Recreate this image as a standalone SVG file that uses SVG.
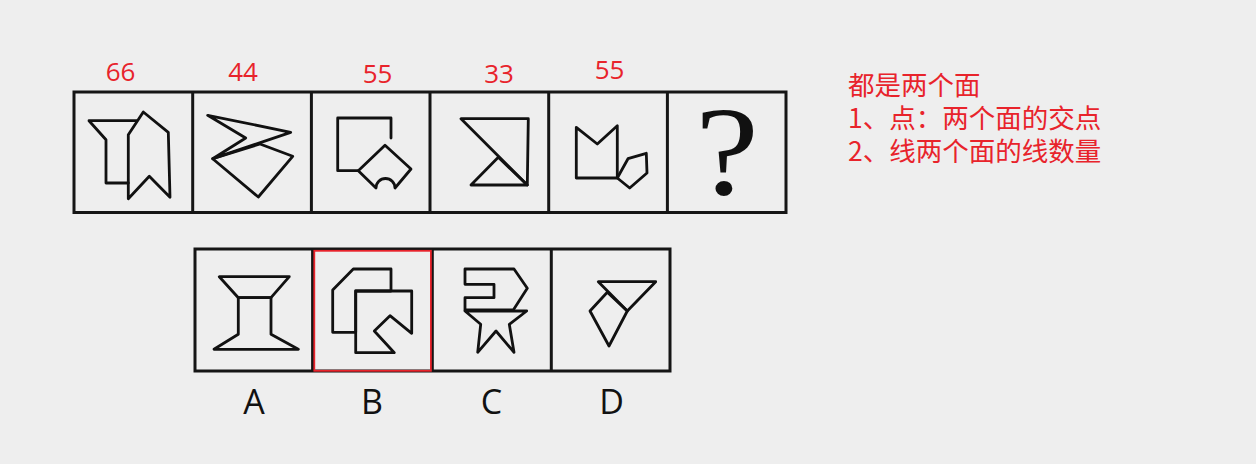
<svg xmlns="http://www.w3.org/2000/svg" width="1256" height="464" viewBox="0 0 1256 464">
<style>
.frame{fill:none;stroke:#151515;stroke-width:3}
.fig{fill:none;stroke:#111;stroke-width:2.8;stroke-linejoin:round;stroke-linecap:round}
.num{font-family:"Open Sans","Noto Sans",sans-serif;font-size:26px;fill:#e8232b;text-anchor:middle}
.lbl{font-family:"Open Sans","Noto Sans",sans-serif;font-size:34px;fill:#111;text-anchor:middle}
.note{font-family:"Noto Sans CJK SC","Noto Sans",sans-serif;font-size:26.5px;fill:#e8232b}
</style>
<rect x="0" y="0" width="1256" height="464" fill="#eeeeee"/>

<g id="numbers">
<text class="num" x="120.5" y="81">66</text>
<text class="num" x="243" y="81">44</text>
<text class="num" x="377.5" y="83">55</text>
<text class="num" x="499" y="83">33</text>
<text class="num" x="609.5" y="79">55</text>
</g>

<g id="top-row">
<rect class="frame" x="74" y="92" width="712" height="120.5"/>
<line class="frame" x1="192.7" y1="92" x2="192.7" y2="212.5"/>
<line class="frame" x1="311.4" y1="92" x2="311.4" y2="212.5"/>
<line class="frame" x1="430" y1="92" x2="430" y2="212.5"/>
<line class="frame" x1="548.7" y1="92" x2="548.7" y2="212.5"/>
<line class="frame" x1="667.4" y1="92" x2="667.4" y2="212.5"/>
</g>

<g id="fig1">
<polyline class="fig" points="136.7,120.7 89,120.7 106,139.7 106,183 128.3,183"/>
<polygon class="fig" points="143.3,112 168.3,132.3 170,197.3 149.3,176.3 128.3,198.7 128.3,134.7"/>
</g>
<g id="fig2">
<polygon class="fig" points="207.7,115.3 290.7,132.3 212.7,158.7 245.7,138"/>
<polygon class="fig" points="212.7,158.7 258.3,197 292.7,156.3 260,144"/>
</g>
<g id="fig3">
<polyline class="fig" points="358.3,170.7 337.7,170.7 337.7,118 391,118 391,138"/>
<path class="fig" d="M358.3,170.7 L385,145.3 L411,169 L395,188 A9.5,9.5 0 0 0 376,188 Z"/>
</g>
<g id="fig4">
<polygon class="fig" points="461,118.7 528.3,118.7 527.3,185"/>
<polygon class="fig" points="498.3,157.3 527.3,185 471,185"/>
</g>
<g id="fig5">
<polygon class="fig" points="576.3,127.3 597.3,144 617.3,125.7 617.3,178 576.3,178"/>
<polygon class="fig" points="617.3,178 628,158.7 646.3,153.3 647,173 629.7,188"/>
</g>
<g id="question">
<text x="727" y="194" transform="translate(727,0) scale(1.12,1) translate(-727,0)" style="font-family:'Liberation Serif',serif;font-size:128px;fill:#111;text-anchor:middle">?</text>
</g>

<g id="bottom-row">
<rect class="frame" x="195" y="249" width="475" height="122"/>
<line class="frame" x1="312.6" y1="249" x2="312.6" y2="371"/>
<line class="frame" x1="432.3" y1="249" x2="432.3" y2="371"/>
<line class="frame" x1="551.3" y1="249" x2="551.3" y2="371"/>
</g>

<g id="optA">
<polygon class="fig" points="219.3,276.7 289.3,276.7 271,297.7 238.3,297.7"/>
<polygon class="fig" points="238.3,297.7 271,297.7 271,334.3 298.3,349.3 214,349.3 238.3,334.3"/>
</g>
<g id="optB">
<polygon class="fig" points="353.3,269 391,269 391,291 355.7,291 355.7,332.3 332.7,332.3 332.7,290"/>
<polygon class="fig" points="355.7,291 411.7,291 411.7,333.3 390,315.7 374.3,331 394.3,352.7 355.7,352.7"/>
<rect x="314.3" y="250.8" width="116.6" height="120" fill="none" stroke="#e8232b" stroke-width="1.8"/>
</g>
<g id="optC">
<polygon class="fig" points="465,269 514,269 527.3,288.3 513.3,310 465,310 465,297.7 494,297.7 494,284.3 465,284.3"/>
<polygon class="fig" points="465,311 526.7,311 509.3,324.3 514,352.3 496,331 477.7,352.3 480.7,324.3"/>
</g>
<g id="optD">
<polygon class="fig" points="598.3,281.7 655.7,281.7 627.3,311"/>
<polygon class="fig" points="607.3,292.3 590,311 609,346 627.3,311"/>
</g>

<g id="labels">
<text class="lbl" x="254" y="414">A</text>
<text class="lbl" x="372" y="414">B</text>
<text class="lbl" x="491.5" y="414">C</text>
<text class="lbl" x="611.5" y="414">D</text>
</g>

<g id="notes">
<text class="note" x="848" y="95">都是两个面</text>
<text class="note" x="848" y="128">1、点：两个面的交点</text>
<text class="note" x="848" y="161">2、线两个面的线数量</text>
</g>
</svg>
